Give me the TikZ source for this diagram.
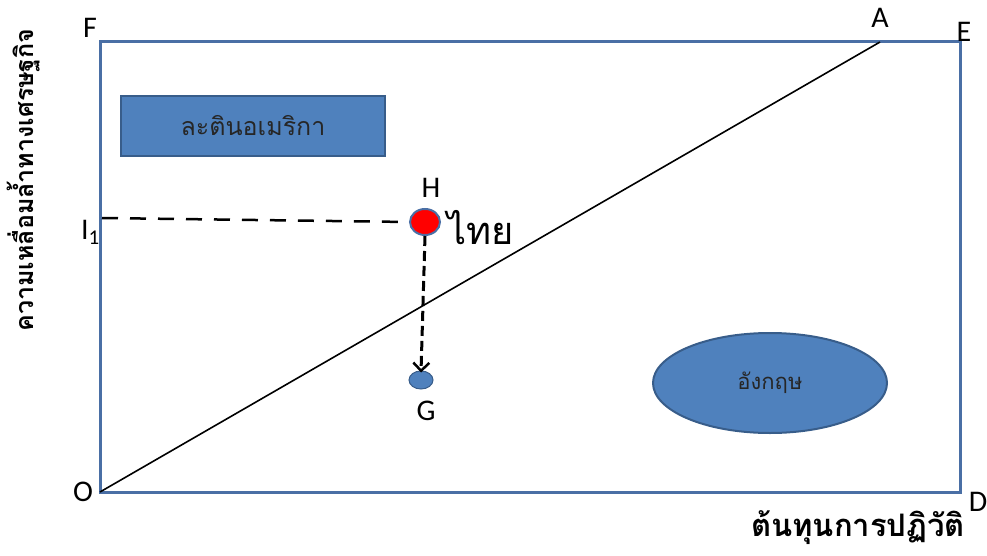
\documentclass[tikz,border=0pt]{standalone}
\usepackage{fontspec}
\setmainfont{Carlito}
\newfontfamily\thaifont[Script=Thai]{Loma}
\usetikzlibrary{shapes.geometric,arrows.meta}
\definecolor{frameblue}{HTML}{4A6FA5}
\definecolor{fillblue}{HTML}{4F81BD}
\definecolor{edgeblue}{HTML}{385D8A}
\tikzset{
  framebox/.style={draw=frameblue,line width=3pt},
  lbl/.style={font=\fontsize{30}{32}\selectfont,inner sep=0pt},
  thaibox/.style={draw=edgeblue,fill=fillblue,line width=2pt,text=black!85},
  dashh/.style={line width=2.5pt,dash pattern=on 16pt off 12pt},
  dashv/.style={line width=3pt,dash pattern=on 10pt off 5pt},
  axislbl/.style={font=\thaifont\bfseries\fontsize{25}{27}\selectfont,inner sep=0pt}
}
\begin{document}
\begin{tikzpicture}[x=1pt,y=-1pt]
\useasboundingbox (0,0) rectangle (987,556);
\coordinate (O) at (100,492);
\coordinate (F) at (100,42);
\coordinate (E) at (960,42);
\coordinate (D) at (960,492);
\coordinate (A) at (880,42);
\coordinate (I1) at (102,218);
\draw[framebox] (O) rectangle (E);
\draw[line width=1.6pt] (O) -- (A);
\node[lbl] (Olab) at (83,492) {O};
\node[lbl] (Flab) at (90,28) {F};
\node[lbl] (Elab) at (964,32) {E};
\node[lbl] (Alab) at (880,18) {A};
\node[lbl] (Dlab) at (978,502) {D};
\node[lbl,anchor=east] (Ilab) at (100,232) {I\textsubscript{1}};
\node[thaibox,minimum width=264pt,minimum height=60pt,font=\thaifont\fontsize{25}{27}\selectfont] (latam) at (253,126) {ละตินอเมริกา};
\node[thaibox,ellipse,minimum width=234pt,minimum height=100pt,font=\thaifont\fontsize{22}{24}\selectfont] (eng) at (770,383) {อังกฤษ};
\node[ellipse,draw=frameblue,fill=red,line width=2pt,minimum width=30pt,minimum height=26pt,inner sep=0pt] (H) at (425,222) {};
\node[ellipse,draw=edgeblue,fill=fillblue,line width=1pt,minimum width=24pt,minimum height=18pt,inner sep=0pt] (G) at (421,380) {};
\node[lbl] (Hlab) at (431,188) {H};
\node[lbl] (Glab) at (426,411) {G};
\node[font=\thaifont\fontsize{38}{40}\selectfont,inner sep=0pt] (thai) at (481,228) {ไทย};
\draw[dashh] (I1) -- (H.west);
\draw[dashv,-{Straight Barb[length=8pt,width=16pt,line width=2.5pt]}] (H.south) -- ([yshift=-2pt]G.north);
\node[axislbl,rotate=90] (ylab) at (24,180) {ความเหลื่อมล้ำทางเศรษฐกิจ};
\node[axislbl,font=\thaifont\bfseries\fontsize{31}{33}\selectfont] (xlab) at (858,528) {ต้นทุนการปฏิวัติ};
\end{tikzpicture}
\end{document}
